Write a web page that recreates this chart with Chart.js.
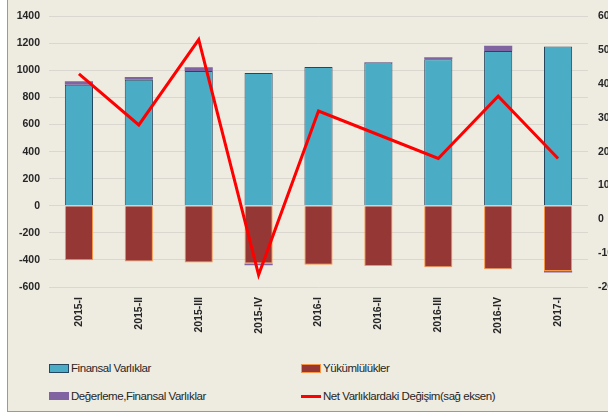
<!DOCTYPE html>
<html>
<head>
<meta charset="utf-8">
<script src="https://cdn.jsdelivr.net/npm/chart.js@4.4.1/dist/chart.umd.min.js"></script>
<style>
  html, body { margin:0; padding:0; width:608px; height:415px; overflow:hidden; background:#ffffff; }
  .frame { position:absolute; left:7px; top:-5px; width:700px; height:415px; border:1px solid #9a9a9a; background:#EEEBE1; }
  .wrap { position:absolute; left:8px; top:0px; width:620px; height:337px; }
  .leg { position:absolute; font-family:"Liberation Sans",Arial,sans-serif; font-size:11.5px; letter-spacing:-0.45px; color:#262626; line-height:14px; white-space:nowrap; }
  .sw { position:absolute; box-sizing:border-box; }
</style>
</head>
<body>
<div class="frame"></div>
<div class="wrap"><canvas id="c"></canvas></div>
<div id="legend"></div>
<script>
const categories = ["2015-I","2015-II","2015-III","2015-IV","2016-I","2016-II","2016-III","2016-IV","2017-I"];
const finansalVarliklar = [895, 931, 996, 982, 1025, 1059, 1083, 1143, 1177];
const yukumlulukler = [-402, -412, -419, -426, -435, -445, -455, -469, -481];
const degerleme = [25, 20, 27, -14, 0, 3, 15, 40, -12];
const netDegisim = [43.0, 27.9, 53.1, -16.4, 32.0, 25.0, 18.0, 36.4, 18.0];
const leftTicks = {min:-600, max:1400, step:200};
const rightTicks = {min:-20, max:60, step:10};

const names = ["Finansal Varlıklar","Yükümlülükler","Değerleme,Finansal Varlıklar","Net Varlıklardaki Değişim(sağ eksen)"];
const tickFont = {family:"'Liberation Sans',Arial,sans-serif", size:10.5, weight:'bold'};
const plain = (v)=>String(v);

new Chart(document.getElementById('c'), {
  data: {
    labels: categories,
    datasets: [
      {type:'bar', label:names[0], data:finansalVarliklar, backgroundColor:'#4BACC6', borderColor:'#24465E', borderWidth:1, yAxisID:'y', order:1, barPercentage:0.47, categoryPercentage:1, stack:'s'},
      {type:'bar', label:names[1], data:yukumlulukler, backgroundColor:'#953735', borderColor:'#F79646', borderWidth:1, yAxisID:'y', order:1, barPercentage:0.47, categoryPercentage:1, stack:'s'},
      {type:'bar', label:names[2], data:degerleme, backgroundColor:'#8064A2', borderWidth:0, yAxisID:'y', order:1, barPercentage:0.47, categoryPercentage:1, stack:'s'},
      {type:'line', label:names[3], data:netDegisim, borderColor:'#FF0000', borderWidth:3, pointRadius:0, tension:0, fill:false, yAxisID:'y1', order:0}
    ]
  },
  options: {
    responsive:true, maintainAspectRatio:false, animation:false,
    layout:{padding:{top:10, left:0, right:0, bottom:0}},
    plugins:{legend:{display:false}, tooltip:{enabled:false}},
    scales:{
      x:{stacked:true, grid:{display:false, drawTicks:false}, border:{display:false},
         ticks:{font:tickFont, color:'#262626', maxRotation:90, minRotation:90, padding:10, autoSkip:false},
         afterFit:(s)=>{s.height=50;}},
      y:{stacked:true, position:'left', min:leftTicks.min, max:leftTicks.max,
         ticks:{stepSize:leftTicks.step, font:tickFont, color:'#262626', padding:9, callback:plain},
         grid:{color:'#D9D7CF', lineWidth:1, drawTicks:false}, border:{display:false},
         afterFit:(s)=>{s.width=41;}},
      y1:{position:'right', min:rightTicks.min, max:rightTicks.max,
         ticks:{stepSize:rightTicks.step, font:tickFont, color:'#262626', padding:10, callback:plain},
         grid:{drawOnChartArea:false, drawTicks:false}, border:{display:false},
         afterFit:(s)=>{s.width=40;}}
    }
  }
});

// HTML legend
const leg = document.getElementById('legend');
const items = [
  {name:names[0], x:49, y:368, sw:'background:#4BACC6;border:1px solid #24465E;height:9px;'},
  {name:names[1], x:301, y:368, sw:'background:#953735;border:1px solid #F79646;height:9px;'},
  {name:names[2], x:49, y:396, sw:'background:#8064A2;height:8px;'},
  {name:names[3], x:301, y:396, sw:'background:#FF0000;height:3px;'}
];
items.forEach(it=>{
  const s = document.createElement('div');
  s.className='sw';
  const h = parseInt(it.sw.match(/height:(\d+)px/)[1]);
  s.style.cssText = it.sw + 'width:20px;left:'+it.x+'px;top:'+(it.y - h/2)+'px;';
  leg.appendChild(s);
  const t = document.createElement('div');
  t.className='leg';
  t.textContent = it.name;
  t.style.left = (it.x+22)+'px';
  t.style.top = (it.y-7)+'px';
  leg.appendChild(t);
});
</script>
</body>
</html>
